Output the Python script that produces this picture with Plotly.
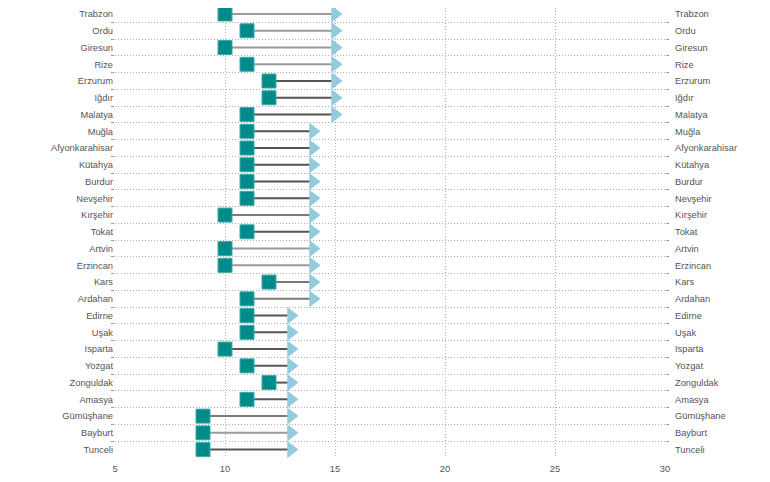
import plotly.graph_objects as go

provinces = ["Trabzon", "Ordu", "Giresun", "Rize", "Erzurum", "Iğdır", "Malatya",
             "Muğla", "Afyonkarahisar", "Kütahya", "Burdur", "Nevşehir", "Kırşehir",
             "Tokat", "Artvin", "Erzincan", "Kars", "Ardahan", "Edirne", "Uşak",
             "Isparta", "Yozgat", "Zonguldak", "Amasya", "Gümüşhane", "Bayburt", "Tunceli"]
start_vals = [10, 11, 10, 11, 12, 12, 11,
              11, 11, 11, 11, 11, 10,
              11, 10, 10, 12, 11, 11, 11,
              10, 11, 12, 11, 9, 9, 9]
end_vals = [15, 15, 15, 15, 15, 15, 15,
            14, 14, 14, 14, 14, 14,
            14, 14, 14, 14, 14, 13, 13,
            13, 13, 13, 13, 13, 13, 13]
x_ticks = [5, 10, 15, 20, 25, 30]

LIGHT, DARK, MID = "#9a9a9a", "#555555", "#7a7a7a"
line_colors = [LIGHT, LIGHT, LIGHT, LIGHT, DARK, DARK, DARK,
               DARK, DARK, DARK, DARK, DARK, MID,
               DARK, LIGHT, LIGHT, MID, MID, DARK, DARK,
               DARK, DARK, DARK, DARK, MID, LIGHT, DARK]

fig = go.Figure()
for p, s, e, c in zip(provinces, start_vals, end_vals, line_colors):
    fig.add_trace(go.Scatter(x=[s, e], y=[p, p], mode="lines",
                             line=dict(color=c, width=2), showlegend=False,
                             hoverinfo="skip", cliponaxis=False))

fig.add_trace(go.Scatter(x=end_vals, y=provinces, mode="markers",
                         marker=dict(symbol="triangle-right", size=15, color="#92cbdc",
                                     line=dict(width=0)),
                         showlegend=False, cliponaxis=False))
fig.add_trace(go.Scatter(x=start_vals, y=provinces, mode="markers",
                         marker=dict(symbol="square", size=14, color="#008b8b",
                                     line=dict(width=1, color="#3fa9a9")),
                         showlegend=False, cliponaxis=False))
# invisible trace for right-side labels
fig.add_trace(go.Scatter(x=start_vals, y=provinces, yaxis="y2", mode="markers",
                         marker=dict(opacity=0), showlegend=False, hoverinfo="skip"))

n = len(provinces)
yrange = [n - 0.5, -0.358]
font = dict(family="Liberation Sans, Arial, sans-serif", size=9.3, color="#555555")
GRID = "#b0b0b0"
DASH = "1px,2px"

fig.update_layout(
    width=770, height=482,
    margin=dict(l=107, r=113, t=0, b=32),
    plot_bgcolor="white", paper_bgcolor="white",
    font=font,
    xaxis=dict(range=[5, 30], tickvals=x_ticks, showgrid=True, gridcolor=GRID,
               griddash=DASH, gridwidth=1, zeroline=False, showline=False,
               ticks="", tickfont=font, automargin=False, ticklabelstandoff=4),
    yaxis=dict(type="category", categoryorder="array", categoryarray=provinces,
               range=yrange, tickson="boundaries", showgrid=True,
               gridcolor=GRID, griddash=DASH, gridwidth=1,
               ticks="outside", ticklen=3, tickcolor="#999999",
               showline=False, tickfont=font, automargin=False,
               ticklabelstandoff=1),
    yaxis2=dict(type="category", categoryorder="array", categoryarray=provinces,
                range=yrange, overlaying="y", side="right", showgrid=False,
                tickson="boundaries", ticks="outside", ticklen=3, tickcolor="#999999",
                tickfont=font, automargin=False, ticklabelstandoff=9),
)

fig.write_html("out.html")
